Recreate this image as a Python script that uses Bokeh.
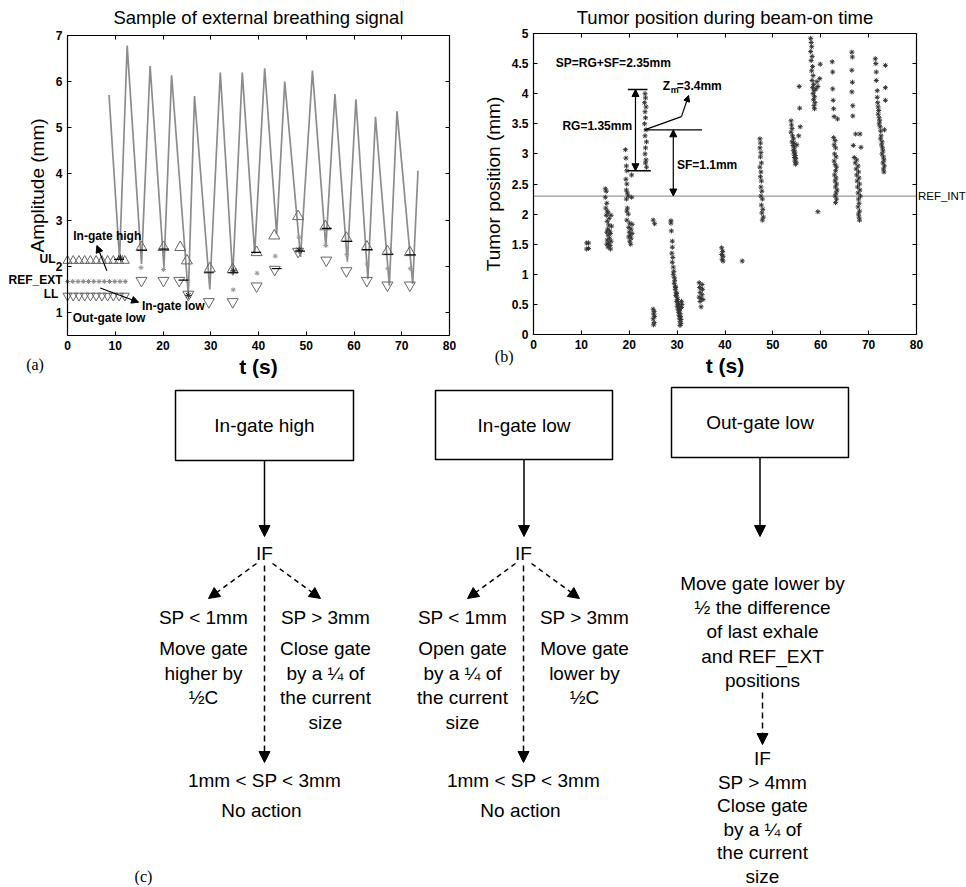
from bokeh.plotting import figure
from bokeh.layouts import column, row
from bokeh.models import (Label, Arrow, NormalHead, LinearAxis, Range1d,
                          FixedTicker, NumeralTickFormatter)
from bokeh.core.properties import value
from bokeh.embed import file_html
from bokeh.resources import INLINE

FONT = "Liberation Sans"
SERIF = "Liberation Serif"

# ---------------- panel (a): external breathing signal ----------------
signal_t = [8.7, 10.9, 12.5, 15.5, 17.3, 20.2, 21.8, 25.3, 26.6, 29.8, 32.0, 34.6, 36.6,
            39.2, 41.3, 43.8, 45.5, 48.8, 51.3, 54.1, 56.0, 58.6, 60.4, 62.9, 64.5,
            67.4, 69.0, 72.3, 73.4]
signal_amp = [5.71, 2.15, 6.78, 2.05, 6.34, 1.97, 6.14, 1.38, 5.69, 1.50, 6.20, 1.80, 6.20,
              2.28, 6.29, 2.70, 6.00, 2.20, 6.24, 2.42, 5.73, 2.10, 5.62, 1.72, 5.24,
              1.58, 5.36, 1.62, 4.07]

init_t = [0.0, 1.2, 2.4, 3.6, 4.8, 6.0, 7.2, 8.4, 9.6, 10.8, 12.0]
init_ul = [2.12] * 11
init_ll = [1.36] * 11
init_ref_t = [0.0, 1.1, 2.2, 3.3, 4.4, 5.5, 6.6, 7.7, 8.8, 9.9, 11.0, 12.1]
init_ref = [1.67] * 12

ul_t = [15.5, 20.1, 23.6, 25.0, 29.8, 34.6, 39.6, 43.3, 48.3, 54.0, 58.4, 62.7, 67.0, 71.7]
ul_amp = [2.41, 2.41, 2.41, 2.12, 1.95, 1.93, 2.30, 2.66, 3.08, 2.86, 2.61, 2.42, 2.32, 2.30]
ll_t = [15.5, 20.1, 23.4, 25.3, 29.6, 34.6, 39.6, 43.4, 48.3, 54.2, 58.4, 62.7, 67.0, 71.7]
ll_amp = [1.69, 1.69, 1.69, 1.39, 1.23, 1.23, 1.57, 1.93, 2.32, 2.13, 1.90, 1.69, 1.59, 1.59]
ref_t = [15.4, 20.1, 25.2, 34.7, 39.7, 43.5, 48.5, 54.1, 58.5, 62.8, 67.1, 71.8]
ref_amp = [1.97, 1.93, 1.68, 1.49, 1.85, 2.22, 2.63, 2.45, 2.25, 2.05, 1.95, 1.95]
exh_t = [10.8, 15.6, 20.2, 24.3, 29.6, 34.7, 39.5, 43.8, 48.7, 54.3, 58.6, 62.8, 67.2, 71.9]
exh_amp = [2.15, 2.35, 2.37, 1.70, 1.86, 1.86, 2.30, 1.95, 2.33, 2.82, 2.54, 2.36, 2.26, 2.25]
dark_t = [11.1, 25.3, 34.8, 48.5]
dark_amp = [2.18, 1.37, 1.90, 2.35]

# ---------------- panel (b): tumor position ----------------
tumor_t = [
    11.1, 11.5, 11.1, 11.5,
    15.0, 15.2, 15.0, 15.3, 15.1, 15.4, 15.6, 15.2, 16.2, 15.8, 15.4, 15.7, 16.3, 15.5, 15.9,
    15.3, 16.1, 15.6, 15.9, 15.4, 16.2, 15.7, 15.3, 16.0, 15.6, 16.1,
    19.2, 19.3, 19.4, 19.5, 20.5, 19.3, 19.5, 19.4, 19.6, 19.8, 20.5, 19.4, 19.6, 19.5, 19.8,
    19.5, 20.1, 20.6, 19.9, 20.4, 20.0, 20.6, 20.2, 19.9, 20.4, 20.1, 20.3,
    23.3, 23.4, 23.2, 23.5, 23.3, 23.4, 23.2, 23.5, 23.3, 23.6, 23.4, 23.3, 23.5, 23.4, 23.6,
    25.0, 25.3, 25.0, 25.2, 25.1, 25.3, 25.0, 25.2, 25.1,
    28.7, 28.7, 28.8, 29.0, 29.0, 28.9, 29.1, 29.0, 29.2, 29.3, 29.2, 29.4, 29.5, 29.4, 29.6,
    29.7, 29.6, 29.8, 29.9, 29.7, 30.0, 30.1, 29.9, 30.2, 30.3, 30.0, 30.4, 30.2, 30.5, 30.3,
    30.6, 30.4, 30.7, 30.5, 30.8, 30.6, 30.8, 30.6, 30.9, 31.0, 30.9,
    34.6, 35.2, 34.7, 35.3, 34.8, 35.2, 34.6, 35.0, 35.4, 34.8, 35.0,
    39.3, 39.5, 39.3, 39.6, 39.4, 39.6,
    43.6,
    47.3, 47.4, 47.3, 47.5, 47.4, 47.6, 47.3, 47.5, 47.4, 47.6, 47.5, 47.7, 47.5, 47.8, 47.6,
    47.9, 47.7, 48.0, 47.8,
    53.8, 53.9, 54.0, 53.8, 54.1, 54.3, 54.0, 54.4, 54.2, 54.5, 54.3, 54.6, 54.4, 54.7, 54.5,
    54.8, 54.6, 54.9, 54.7, 55.5, 55.6, 55.7, 55.4, 55.0,
    57.9, 58.0, 58.1, 57.9, 58.2, 58.0, 58.3, 58.1, 58.4, 58.2, 58.5, 58.3, 58.6, 58.4, 58.7,
    58.5, 58.8, 58.6, 58.7, 59.9, 59.8, 59.2, 59.4, 59.0,
    59.4,
    62.4, 62.5, 62.5, 62.6, 62.7, 62.8, 63.5, 62.7, 63.0, 62.8, 63.1, 62.9, 63.2, 62.8, 63.0,
    63.3, 63.1, 62.9, 63.2, 63.0, 63.3, 63.1, 63.4, 63.2, 63.0, 63.3, 63.1,
    66.5, 66.6, 66.5, 66.6, 66.5, 66.7, 66.7, 67.3, 68.2, 66.8, 68.4, 67.0, 67.5, 67.2, 67.8,
    67.4, 67.9, 67.5, 68.0, 67.6, 68.1, 67.7, 68.2, 67.8, 68.3, 67.9, 68.0, 67.8, 68.1, 67.9,
    68.0, 68.1,
    71.4, 71.5, 73.5, 71.6, 71.6, 73.5, 71.8, 71.8, 73.5, 71.9, 72.0, 72.1, 72.0, 72.2, 72.3,
    72.2, 72.4, 73.3, 72.5, 72.6, 72.5, 72.8, 72.7, 72.9, 73.0, 72.8, 73.1, 73.2, 73.0, 73.3,
    73.1, 73.2,
]
tumor_pos = [
    1.52, 1.52, 1.42, 1.43,
    2.42, 2.38, 2.28, 2.18, 2.10, 2.05, 2.02, 1.98, 1.98, 1.93, 1.88, 1.82, 1.80, 1.75, 1.72,
    1.70, 1.68, 1.65, 1.60, 1.57, 1.55, 1.52, 1.50, 1.48, 1.45, 1.42,
    3.07, 2.93, 2.80, 2.72, 2.65, 2.58, 2.50, 2.40, 2.35, 2.30, 2.28, 2.25, 2.10, 2.05, 2.00,
    1.90, 1.85, 1.83, 1.78, 1.75, 1.70, 1.68, 1.65, 1.62, 1.60, 1.55, 1.50,
    4.00, 3.93, 3.85, 3.78, 3.70, 3.60, 3.50, 3.40, 3.30, 3.20, 3.10, 3.00, 2.90, 2.85, 2.78,
    1.90, 1.84, 0.42, 0.38, 0.34, 0.30, 0.26, 0.20, 0.16,
    1.89, 1.85, 1.72, 1.55, 1.45, 1.35, 1.28, 1.20, 1.12, 1.05, 1.00, 0.95, 0.90, 0.85, 0.80,
    0.78, 0.75, 0.70, 0.68, 0.65, 0.62, 0.58, 0.55, 0.52, 0.50, 0.47, 0.45, 0.42, 0.40, 0.37,
    0.35, 0.32, 0.30, 0.27, 0.25, 0.22, 0.18, 0.15, 0.55, 0.50, 0.45,
    0.86, 0.83, 0.78, 0.75, 0.70, 0.66, 0.62, 0.60, 0.58, 0.55, 0.46,
    1.44, 1.38, 1.33, 1.30, 1.25, 1.22,
    1.22,
    3.25, 3.18, 3.10, 3.02, 2.95, 2.85, 2.78, 2.70, 2.62, 2.55, 2.45, 2.38, 2.30, 2.25, 2.15,
    2.08, 2.02, 1.95, 1.90,
    3.55, 3.48, 3.42, 3.36, 3.30, 3.25, 3.20, 3.18, 3.14, 3.10, 3.06, 3.03, 3.00, 2.97, 2.94,
    2.92, 2.88, 2.85, 2.83, 4.12, 3.76, 3.45, 3.30, 3.15,
    4.92, 4.85, 4.78, 4.70, 4.62, 4.55, 4.45, 4.38, 4.30, 4.22, 4.15, 4.10, 4.05, 4.00, 3.95,
    3.90, 3.85, 3.80, 3.75, 4.49, 4.25, 4.20, 4.12, 4.08,
    2.04,
    4.53, 4.36, 4.08, 3.89, 3.75, 3.62, 3.58, 3.27, 3.22, 3.15, 3.10, 3.00, 2.95, 2.88, 2.82,
    2.78, 2.72, 2.65, 2.60, 2.55, 2.50, 2.45, 2.40, 2.35, 2.30, 2.25, 2.19,
    4.69, 4.61, 4.39, 4.19, 4.03, 3.80, 3.63, 3.33, 3.33, 3.14, 3.11, 2.94, 2.90, 2.85, 2.80,
    2.75, 2.70, 2.65, 2.60, 2.55, 2.50, 2.45, 2.40, 2.35, 2.30, 2.25, 2.18, 2.12, 2.05, 2.00,
    1.95, 1.90,
    4.58, 4.50, 4.47, 4.36, 4.22, 4.10, 4.05, 3.94, 3.89, 3.85, 3.78, 3.72, 3.66, 3.60, 3.55,
    3.50, 3.45, 3.40, 3.38, 3.30, 3.25, 3.20, 3.15, 3.10, 3.05, 3.00, 2.95, 2.90, 2.85, 2.80,
    2.75, 2.70,
]
REF_INT = 2.30
ZM = 3.40
RG_TOP = 4.07
RG_BOT = 2.72

x_ticks = [0, 10, 20, 30, 40, 50, 60, 70, 80]
a_yticks = [1, 2, 3, 4, 5, 6, 7]
b_yticks = [0, 0.5, 1, 1.5, 2, 2.5, 3, 3.5, 4, 4.5, 5]

W, H = 483, 385


def make_fig(xr, yr, box):
    # box = (left, right, top, bottom) pixel edges of the data box inside the W x H canvas
    left, right, top, bottom = box
    sx = (right - left) / (xr[1] - xr[0])
    sy = (bottom - top) / (yr[1] - yr[0])
    x0 = xr[0] - left / sx
    x1 = xr[1] + (W - right) / sx
    y0 = yr[0] - (H - bottom) / sy
    y1 = yr[1] + top / sy
    p = figure(width=W, height=H, x_range=Range1d(x0, x1), y_range=Range1d(y0, y1),
               output_backend="svg", toolbar_location=None,
               x_axis_location=None, y_axis_location=None,
               min_border_left=0, min_border_right=0, min_border_top=0, min_border_bottom=0)
    p.grid.visible = False
    p.outline_line_color = None
    return p


def add_axes(p, xr, yr, xticks, yticks, xlabel, ylabel):
    bottom = LinearAxis(fixed_location=yr[0], bounds=xr, ticker=FixedTicker(ticks=xticks),
                        axis_label=xlabel)
    left = LinearAxis(fixed_location=xr[0], bounds=yr, ticker=FixedTicker(ticks=yticks),
                      axis_label=ylabel)
    top = LinearAxis(fixed_location=yr[1], bounds=xr, ticker=FixedTicker(ticks=xticks))
    right = LinearAxis(fixed_location=xr[1], bounds=yr, ticker=FixedTicker(ticks=yticks))
    for ax in (bottom, left, top, right):
        ax.major_tick_in = 4
        ax.major_tick_out = 0
        ax.minor_tick_line_color = None
        ax.axis_line_color = "black"
        ax.axis_line_width = 1.2
        ax.major_tick_line_color = "black"
        ax.major_label_text_font = FONT
        ax.major_label_text_font_style = "bold"
        ax.major_label_text_font_size = "12px"
        ax.major_label_text_color = "black"
        ax.axis_label_text_font = FONT
        ax.axis_label_text_font_style = "normal"
        ax.axis_label_text_font_size = "19px"
        ax.axis_label_text_color = "black"
    for ax in (top, right):
        ax.major_label_text_color = None
    bottom.axis_label_text_font_style = "bold"
    bottom.axis_label_text_font_size = "21px"
    bottom.axis_label_standoff = 2
    p.add_layout(bottom, "below")
    p.add_layout(left, "left")
    p.add_layout(top, "above")
    p.add_layout(right, "right")
    return bottom, left


def lab(p, x, y, text, size="12px", align="left", style_="bold", font=FONT, **kw):
    p.add_layout(Label(x=x, y=y, text=text, text_font=font, text_font_size=size,
                       text_font_style=style_, text_align=align, text_baseline="middle",
                       text_color="black", **kw))


# ---------- figure (a)
AX = (0, 80)
AY = (0.5, 7)
pa = make_fig(AX, AY, (67, 449, 35, 335))
add_axes(pa, AX, AY, x_ticks, a_yticks, "t (s)", "Amplitude (mm)")
lab(pa, 40, 7.39, "Sample of external breathing signal", size="18.5px", align="center", style_="normal")

pa.line(signal_t, signal_amp, line_color="#8c8c8c", line_width=1.7)
pa.scatter(init_t, init_ul, marker="triangle", size=9, fill_color=None, line_color="#666666")
pa.scatter(init_t, init_ll, marker="inverted_triangle", size=9, fill_color=None, line_color="#666666")
pa.scatter(init_ref_t, init_ref, marker="asterisk", size=5, line_color="#888888")
pa.scatter(ul_t, ul_amp, marker="triangle", size=11, fill_color=None, line_color="#666666")
pa.scatter(ll_t, ll_amp, marker="inverted_triangle", size=11, fill_color=None, line_color="#666666")
pa.scatter(ref_t, ref_amp, marker="asterisk", size=5, line_color="#999999")
pa.scatter(exh_t, exh_amp, marker="dash", size=10, line_color="black", line_width=1.2)
pa.scatter(dark_t, dark_amp, marker="asterisk", size=7, line_color="#222222")

lab(pa, 1.2, 2.66, "In-gate high")
lab(pa, 15.6, 1.13, "In-gate low")
lab(pa, 1.1, 0.89, "Out-gate low")
pa.add_layout(Arrow(end=NormalHead(size=7, fill_color="black", line_color="black"), start=None,
                    x_start=8.25, y_start=1.9, x_end=6.15, y_end=2.45, line_width=1.2))
pa.add_layout(Arrow(end=NormalHead(size=7, fill_color="black", line_color="black"), start=None,
                    x_start=6.85, y_start=1.53, x_end=14.9, y_end=1.22, line_width=1.2))
lab(pa, -2.5, 2.15, "UL", align="right")
lab(pa, -1.05, 1.70, "REF_EXT", align="right")
lab(pa, -1.9, 1.40, "LL", align="right")
lab(pa, -6.8, -0.13, "(a)", size="16px", align="center", style_="normal", font=SERIF)

# ---------- figure (b)
BX = (0, 80)
BY = (0, 5)
pb = make_fig(BX, BY, (50, 433, 33, 334))
bb, bl = add_axes(pb, BX, BY, x_ticks, b_yticks, "t (s)", "Tumor position (mm)")
bl.formatter = NumeralTickFormatter(format="0.[0]")
lab(pb, 40, 5.266, "Tumor position during beam-on time", size="18.5px", align="center", style_="normal")

pb.segment(x0=[0], y0=[REF_INT], x1=[80], y1=[REF_INT], line_color="#999999", line_width=1.2)
pb.scatter(tumor_t, tumor_pos, marker="asterisk", size=5, line_color="#333333", line_width=1)

pb.segment(x0=[19.7, 19.7, 23.2], y0=[RG_TOP, RG_BOT, ZM], x1=[23.8, 24.5, 35.2],
           y1=[RG_TOP, RG_BOT, ZM], line_color="black", line_width=1.3)
pb.segment(x0=[23.2], y0=[ZM], x1=[30.9], y1=[3.62], line_color="black", line_width=1.2)
pb.add_layout(Arrow(end=NormalHead(size=6, fill_color="black"), start=None,
                    x_start=30.9, y_start=3.62, x_end=32.4, y_end=3.97, line_width=1.2))
pb.add_layout(Arrow(start=NormalHead(size=7, fill_color="black"), end=NormalHead(size=7, fill_color="black"),
                    x_start=21.3, y_start=RG_TOP, x_end=21.3, y_end=RG_BOT, line_width=1.2))
pb.add_layout(Arrow(start=NormalHead(size=7, fill_color="black"), end=NormalHead(size=7, fill_color="black"),
                    x_start=29.2, y_start=ZM, x_end=29.2, y_end=REF_INT, line_width=1.2))
lab(pb, 4.65, 4.51, "SP=RG+SF=2.35mm")
lab(pb, 20.6, 3.46, "RG=1.35mm", align="right")
lab(pb, 29.95, 2.82, "SF=1.1mm")
lab(pb, 27.0, 4.12, "Z")
lab(pb, 27.0, 4.06, "m", size="9px", x_offset=8)
lab(pb, 27.0, 4.12, "=3.4mm", x_offset=14)
lab(pb, 80.3, REF_INT, "REF_INT", size="11.5px", style_="normal")
lab(pb, -6.12, -0.36, "(b)", size="16px", align="center", style_="normal", font=SERIF)

# ---------- flowchart (c)
pc = figure(width=966, height=502, x_range=Range1d(0, 966), y_range=Range1d(887, 385),
            output_backend="svg", toolbar_location=None,
            x_axis_location=None, y_axis_location=None,
            min_border_left=0, min_border_right=0, min_border_top=0, min_border_bottom=0)
pc.grid.visible = False
pc.outline_line_color = None

box_left = [175, 435, 671]
box_right = [353, 612, 848]
box_top = [390, 390, 387]
box_bottom = [460, 459, 457]
box_text = ["In-gate high", "In-gate low", "Out-gate low"]
col_x = [264, 523, 762]
pc.quad(left=box_left, right=box_right, top=box_top, bottom=box_bottom,
        fill_color="white", line_color="black", line_width=1.5)


def fc_arrow(x0, y0, x1, y1, dash=None):
    kw = dict(line_width=1.5, line_color="black")
    if dash:
        kw["line_dash"] = dash
    pc.add_layout(Arrow(end=NormalHead(size=11, fill_color="black", line_color="black"), start=None,
                        x_start=x0, y_start=y0, x_end=x1, y_end=y1, **kw))


for i in range(3):
    c = (box_left[i] + box_right[i]) / 2
    fc_arrow(c, box_bottom[i], c, 536)
for c in col_x[:2]:
    fc_arrow(c - 8, 563, c - 56, 598, "5 4")
    fc_arrow(c + 8, 563, c + 56, 598, "5 4")
    fc_arrow(c, 565, c, 762, "6 4")
fc_arrow(col_x[2], 692, col_x[2], 744, "6 4")

tx, ty, tt = [], [], []


def put(x, y0, lines, step=24.5):
    for k, s in enumerate(lines):
        tx.append(x)
        ty.append(y0 + k * step)
        tt.append(s)


for i in range(3):
    put((box_left[i] + box_right[i]) / 2, (box_top[i] + box_bottom[i]) / 2, [box_text[i]])
for c in col_x[:2]:
    put(c, 553, ["IF"])
    put(c - 61, 617, ["SP < 1mm"])
    put(c + 61, 617, ["SP > 3mm"])
    put(c, 780, ["1mm < SP < 3mm"])
    put(c - 3, 810, ["No action"])
put(col_x[0] - 61, 648, ["Move gate", "higher by", "½C"])
put(col_x[0] + 61, 648, ["Close gate", "by a ¼ of", "the current", "size"])
put(col_x[1] - 61, 648, ["Open gate", "by a ¼ of", "the current", "size"])
put(col_x[1] + 61, 648, ["Move gate", "lower by", "½C"])
put(col_x[2], 583, ["Move gate lower by", "½ the difference", "of last exhale", "and REF_EXT", "positions"], step=24.2)
put(col_x[2], 758, ["IF", "SP > 4mm", "Close gate", "by a ¼ of", "the current", "size"], step=23.5)

pc.text(x=tx, y=ty, text=tt, text_align="center", text_baseline="middle",
        text_font=value(FONT), text_font_size="19px", text_color="black")
pc.text(x=[143], y=[876], text=["(c)"], text_align="center", text_baseline="middle",
        text_font=value(SERIF), text_font_size="16px", text_color="black")

layout = column(row(pa, pb, spacing=0), pc, spacing=0)
open("out.html", "w").write(file_html(layout, INLINE))
